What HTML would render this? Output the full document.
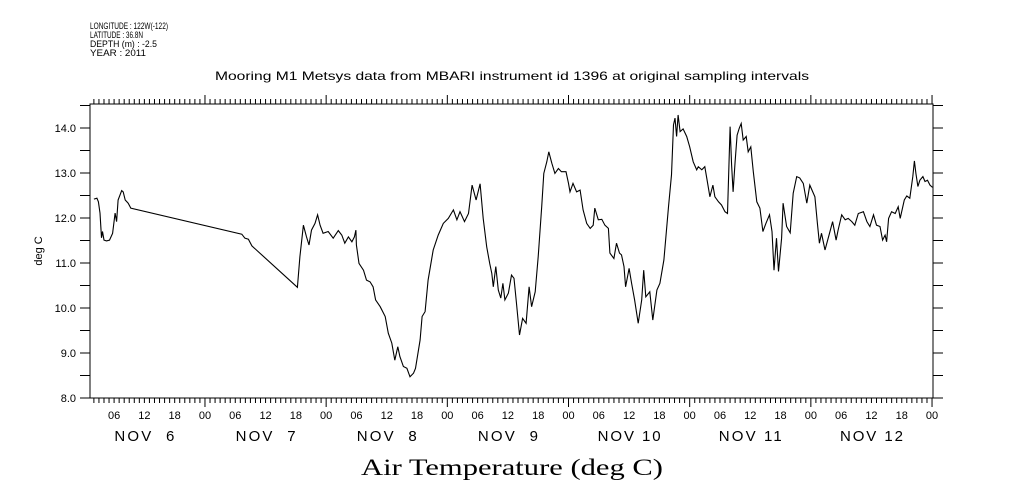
<!DOCTYPE html>
<html><head><meta charset="utf-8"><style>
html,body{margin:0;padding:0;background:#fff;}
svg{display:block;font-family:"Liberation Sans",sans-serif;}
</style></head><body>
<svg id="chart" width="1009" height="504" viewBox="0 0 1009 504" xmlns="http://www.w3.org/2000/svg">
<g font-size="9" fill="#000">
<text x="90" y="29" textLength="78" lengthAdjust="spacingAndGlyphs">LONGITUDE : 122W(-122)</text>
<text x="90" y="38" textLength="53" lengthAdjust="spacingAndGlyphs">LATITUDE : 36.8N</text>
<text x="90" y="47" textLength="67" lengthAdjust="spacingAndGlyphs">DEPTH (m) : -2.5</text>
<text x="90" y="56" textLength="56" lengthAdjust="spacingAndGlyphs">YEAR : 2011</text>
</g>
<text x="215" y="80" font-size="12" textLength="594" lengthAdjust="spacingAndGlyphs">Mooring M1 Metsys data from MBARI instrument id 1396 at original sampling intervals</text>
<text x="512" y="475" text-anchor="middle" font-family="'Liberation Serif',serif" font-size="23" textLength="302" lengthAdjust="spacingAndGlyphs">Air Temperature (deg C)</text>
<text transform="translate(42,251) rotate(-90)" text-anchor="middle" font-size="11">deg C</text>
<rect x="90" y="104" width="843" height="294" fill="none" stroke="#000" stroke-width="1"/>
<g id="axes"></g>
<g id="series"></g>
</svg>
<script>
const hours = [2.0,2.6,2.9,3.2,3.5,3.7,4.0,4.5,5.1,5.7,6.2,6.5,6.8,7.5,7.8,8.2,8.8,9.3,31.3,31.9,32.6,33.3,42.3,42.8,43.5,44.1,44.6,45.1,45.8,46.3,46.8,47.4,48.4,49.4,50.4,51.1,51.7,52.4,53.1,53.6,53.9,54.0,54.5,55.4,56.0,56.7,57.3,57.8,58.7,59.7,60.3,61.0,61.6,62.2,62.6,63.3,64.0,64.6,65.3,65.7,66.6,67.0,67.6,68.2,69.2,70.2,71.2,72.2,73.2,73.9,74.5,75.4,76.2,76.9,77.7,78.5,79.1,79.8,80.4,80.8,81.1,81.6,82.1,82.6,83.0,83.4,84.1,84.7,85.2,85.7,86.3,86.9,87.6,88.2,88.7,89.4,90.0,90.7,91.1,91.7,92.1,92.7,93.3,94.0,94.6,95.5,96.0,96.3,96.9,97.6,98.3,98.9,99.6,100.3,100.9,101.2,101.9,102.6,103.2,103.9,104.2,105.0,105.5,106.1,106.5,107.0,107.3,108.0,108.5,109.1,109.8,110.5,110.9,111.3,112.1,112.7,113.5,114.1,114.9,115.8,116.4,116.8,117.1,117.4,117.7,118.1,118.7,119.4,120.0,120.7,121.4,121.7,122.4,123.0,123.4,124.0,124.6,125.0,125.7,126.3,127.0,127.5,127.6,128.0,128.3,128.6,129.0,129.4,129.8,130.2,130.6,131.2,131.6,132.1,132.6,133.3,133.9,134.5,135.1,135.8,136.3,136.7,137.2,137.6,138.2,138.5,139.2,139.9,140.5,141.2,141.8,142.5,143.2,143.8,144.8,145.3,145.7,146.1,146.8,147.7,148.3,149.0,149.4,150.1,150.8,151.4,152.1,152.7,153.4,154.4,155.1,155.7,156.4,157.0,157.7,158.2,158.7,159.0,159.4,160.0,160.7,161.3,161.7,162.5,163.0,163.6,164.2,164.5,164.8,165.2,165.6,166.2,166.6,167.1,167.6,168.1];
const temps = [12.42,12.44,12.36,12.11,11.56,11.70,11.51,11.49,11.51,11.66,12.11,11.92,12.40,12.61,12.58,12.40,12.33,12.22,11.64,11.55,11.53,11.38,10.46,11.14,11.84,11.58,11.40,11.73,11.88,12.07,11.84,11.66,11.70,11.55,11.72,11.62,11.44,11.58,11.47,11.58,11.73,11.40,10.99,10.84,10.62,10.58,10.47,10.18,10.03,9.81,9.44,9.22,8.84,9.14,8.92,8.70,8.66,8.47,8.55,8.66,9.29,9.81,9.92,10.62,11.29,11.62,11.88,11.99,12.18,11.96,12.14,11.92,12.10,12.73,12.40,12.76,11.99,11.36,10.99,10.77,10.47,10.92,10.40,10.22,10.55,10.18,10.33,10.73,10.66,10.10,9.40,9.77,9.66,10.47,10.03,10.36,11.14,12.25,12.99,13.25,13.47,13.22,12.99,13.10,13.03,13.03,12.77,12.58,12.77,12.58,12.62,12.18,11.88,11.77,11.84,12.22,11.96,11.97,11.84,11.77,11.22,11.10,11.44,11.22,11.18,10.92,10.47,10.88,10.55,10.18,9.66,10.18,10.84,10.25,10.36,9.73,10.40,10.55,11.07,12.25,12.96,14.07,14.22,13.81,14.29,13.92,13.98,13.81,13.58,13.25,13.07,13.14,13.07,13.14,12.88,12.47,12.73,12.47,12.36,12.29,12.14,12.10,12.55,14.03,13.18,12.58,13.25,13.84,13.99,14.10,13.73,13.81,13.47,13.58,13.03,12.36,12.22,11.70,11.88,12.07,11.70,10.84,11.55,10.81,11.55,12.33,11.81,11.67,12.55,12.92,12.89,12.77,12.33,12.73,12.47,11.88,11.44,11.66,11.29,11.66,11.92,11.51,11.73,12.07,11.96,11.99,11.92,11.84,12.10,12.14,11.92,11.81,12.07,11.84,11.81,11.51,11.62,11.47,11.99,12.14,12.10,12.25,11.99,12.40,12.49,12.44,12.92,13.27,12.99,12.70,12.84,12.92,12.81,12.84,12.73,12.68];
const yTickLabels = ["8.0","9.0","10.0","11.0","12.0","13.0","14.0"];
const dayLabels = ["NOV  6","NOV  7","NOV  8","NOV  9","NOV 10","NOV 11","NOV 12"];
const hourLabels = ["00","06","12","18"];

const NS = "http://www.w3.org/2000/svg";
const X0 = 83.8, PXH = 5.049, LEFT = 90, RIGHT = 933, TOP = 104, BOT = 398;
function xs(h){ return X0 + h * PXH; }
function ys(v){ return BOT - (v - 8) * 45; }
function mk(tag, attrs, parent){
  const e = document.createElementNS(NS, tag);
  for (const k in attrs) e.setAttribute(k, attrs[k]);
  parent.appendChild(e);
  return e;
}
const axes = document.getElementById('axes');
let d = "";
for (let v = 8; v <= 14.5001; v += 0.5) {
  const y = ys(v);
  d += `M${LEFT-10},${y}H${LEFT}M${RIGHT},${y}H${RIGHT+10}`;
}
for (let h = 0; h <= 169; h++) {
  const x = xs(h);
  if (x < LEFT - 0.5 || x > RIGHT + 0.5) continue;
  const len = (h % 24 === 0) ? 9 : 5;
  d += `M${x},${BOT}V${BOT+len}M${x},${TOP}V${TOP-len}`;
}
const tk = mk('path', {d: d, stroke: '#000', 'stroke-width': 1, fill: 'none'}, axes);



yTickLabels.forEach((lab, i) => {
  const t = mk('text', {x: 76, y: ys(8 + i) + 4, 'text-anchor': 'end', 'font-size': 11}, axes);
  t.textContent = lab;
  
  
});
for (let h = 6; h <= 168; h += 6) {
  const t = mk('text', {x: xs(h), y: 419, 'text-anchor': 'middle', 'font-size': 11}, axes);
  t.textContent = hourLabels[(h / 6) % 4];
  
  
}
dayLabels.forEach((lab, i) => {
  const w = lab.length === 6 && lab[4] !== ' ' ? 63 : 60;
  const t = mk('text', {x: xs(i * 24 + 12) - w / 2, y: 441, 'font-size': 15, textLength: w, lengthAdjust: 'spacing'}, axes);
  t.style.whiteSpace = 'pre';
  t.textContent = lab;
  
  
});

const series = document.getElementById('series');
const pts = hours.map((h, i) => xs(h).toFixed(1) + ',' + ys(temps[i]).toFixed(1)).join(' ');
const line = mk('polyline', {points: pts, fill: 'none', stroke: '#000', 'stroke-width': 1.1}, series);


</script>
</body></html>
